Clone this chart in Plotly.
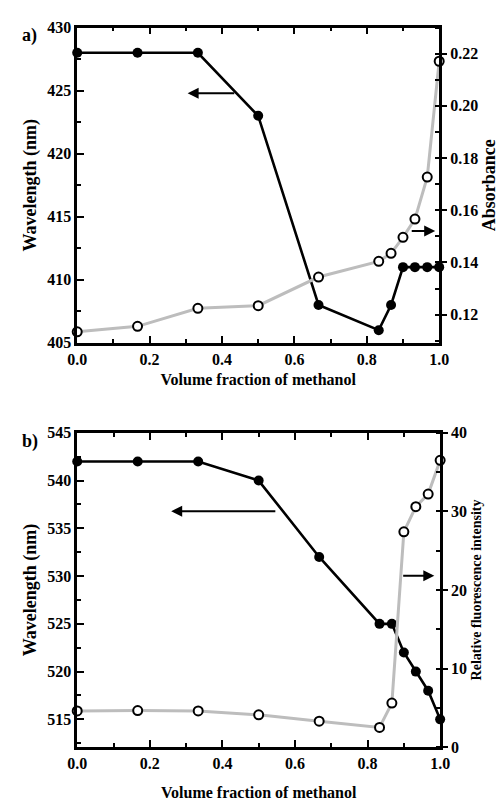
import plotly.graph_objects as go

# ---- data ----
frac = [0.0, 1/6, 1/3, 0.5, 2/3, 0.833, 0.867, 0.9, 0.933, 0.967, 1.0]

abs_wavelength = [428, 428, 428, 423, 408, 406, 408, 411, 411, 411, 411]
absorbance = [0.1134, 0.1155, 0.1224, 0.1234, 0.1344, 0.1404, 0.1435, 0.1496, 0.1566, 0.1727, 0.2171]

fl_wavelength = [542, 542, 542, 540, 532, 525, 525, 522, 520, 518, 515]
fl_intensity = [4.6, 4.65, 4.6, 4.1, 3.3, 2.5, 5.6, 27.4, 30.6, 32.2, 36.5]

x_ticks = [0.0, 0.2, 0.4, 0.6, 0.8, 1.0]

FONT = "Liberation Serif, Times New Roman, Times, serif"
GRAY = "#bdbdbd"

fig = go.Figure()

def black_trace(y, xa, ya):
    return go.Scatter(x=frac, y=y, xaxis=xa, yaxis=ya, mode="lines+markers",
                      line=dict(color="black", width=2.6),
                      marker=dict(symbol="circle", size=10, color="black"),
                      cliponaxis=False, showlegend=False)

def gray_trace(y, xa, ya):
    return go.Scatter(x=frac, y=y, xaxis=xa, yaxis=ya, mode="lines+markers",
                      line=dict(color=GRAY, width=3),
                      marker=dict(symbol="circle", size=9, color="white",
                                  line=dict(color="black", width=2)),
                      cliponaxis=False, showlegend=False)

fig.add_trace(black_trace(abs_wavelength, "x", "y"))
fig.add_trace(gray_trace(absorbance, "x", "y2"))
fig.add_trace(black_trace(fl_wavelength, "x2", "y3"))
fig.add_trace(gray_trace(fl_intensity, "x2", "y4"))

tickfont = dict(family=FONT, size=16, color="black", weight="bold")
titlefont = dict(family=FONT, size=18, color="black", weight="bold")

def xaxis(domain, anchor, standoff):
    return dict(domain=domain, anchor=anchor, range=[0, 1],
                tickvals=x_ticks, tickformat=".1f",
                ticks="inside", ticklen=7, tickwidth=2, tickcolor="black",
                minor=dict(dtick=0.1, ticks="inside", ticklen=4, tickwidth=2, tickcolor="black"),
                showline=True, linewidth=2.5, linecolor="black", mirror="ticks",
                showgrid=False, zeroline=False, tickfont=tickfont,
                title=dict(text="Volume fraction of methanol",
                           font=dict(family=FONT, size=16, color="black", weight="bold"),
                           standoff=standoff))

def yleft(domain, anchor, rng, dtick, title):
    return dict(domain=domain, anchor=anchor, range=rng, dtick=dtick,
                ticks="inside", ticklen=7, tickwidth=2, tickcolor="black",
                minor=dict(dtick=dtick/2, ticks="inside", ticklen=4, tickwidth=2, tickcolor="black"),
                showline=True, linewidth=2.5, linecolor="black", mirror=False,
                showgrid=False, zeroline=False, tickfont=tickfont,
                title=dict(text=title, font=titlefont, standoff=6))

def yright(overlay, anchor, rng, tickvals, dtick_minor, title, tsize, fmt):
    return dict(overlaying=overlay, anchor=anchor, side="right", range=rng,
                tickvals=tickvals, tickformat=fmt,
                ticks="outside", ticklen=5, tickwidth=2, tickcolor="black",
                minor=dict(dtick=dtick_minor, ticks="inside", ticklen=4, tickwidth=2, tickcolor="black"),
                showline=True, linewidth=2.5, linecolor="black",
                showgrid=False, zeroline=False, tickfont=tickfont,
                title=dict(text=title, font=dict(family=FONT, size=tsize, color="black", weight="bold"), standoff=6))

fig.update_layout(
    width=502, height=805,
    margin=dict(l=0, r=0, t=0, b=0),
    paper_bgcolor="white", plot_bgcolor="white",
    xaxis=xaxis([70/502, 447/502], "y", 8),
    yaxis=yleft([1-342/805, 1-20/805], "x", [405, 430], 5, "Wavelength (nm)"),
    yaxis2=yright("y", "x", [0.1092, 0.230], [0.12, 0.14, 0.16, 0.18, 0.20, 0.22], 0.01, "Absorbance", 18, ".2f"),
    xaxis2=xaxis([70/502, 448/502], "y3", 16),
    yaxis3=yleft([1-755/805, 1-434/805], "x2", [512.1, 545], 5, "Wavelength (nm)"),
    yaxis4=yright("y3", "x2", [0, 40], [0, 10, 20, 30, 40], 5, "Relative fluorescence intensity", 14, "d"),
)

# indicator arrows
arrows = [
    ("x", "y", 0.305, 424.8, 0.438, 424.8),
    ("x", "y2", 0.989, 0.152, 0.920, 0.152),
    ("x2", "y3", 0.259, 536.8, 0.550, 536.8),
    ("x2", "y4", 0.984, 21.8, 0.894, 21.8),
]
for xr, yr, x, y, ax, ay in arrows:
    fig.add_annotation(xref=xr, yref=yr, axref=xr, ayref=yr, x=x, y=y, ax=ax, ay=ay,
                       text="", showarrow=True, arrowhead=2, arrowsize=1.1,
                       arrowwidth=2, arrowcolor="black")

for label, ypx in [("a)", 28), ("b)", 443)]:
    fig.add_annotation(xref="paper", yref="paper", x=10/502, y=1-ypx/805,
                       xanchor="left", yanchor="middle", text=label, showarrow=False,
                       font=dict(family=FONT, size=18, color="black", weight="bold"))

fig.write_html("out.html")
